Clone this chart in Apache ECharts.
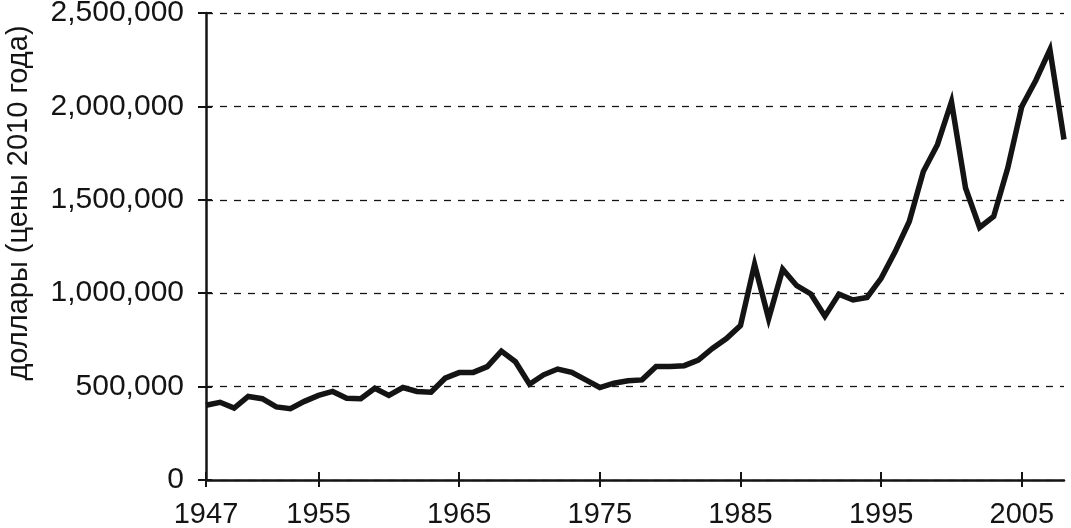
<!DOCTYPE html>
<html>
<head>
<meta charset="utf-8">
<script src="https://cdn.jsdelivr.net/npm/echarts@6/dist/echarts.min.js"></script>
<style>
html,body{margin:0;padding:0;background:#fff;}
#chart{width:1071px;height:528px;}
</style>
</head>
<body>
<div id="chart"></div>
<script>
const years = [1947,1948,1949,1950,1951,1952,1953,1954,1955,1956,1957,1958,1959,1960,1961,1962,1963,1964,1965,1966,1967,1968,1969,1970,1971,1972,1973,1974,1975,1976,1977,1978,1979,1980,1981,1982,1983,1984,1985,1986,1987,1988,1989,1990,1991,1992,1993,1994,1995,1996,1997,1998,1999,2000,2001,2002,2003,2004,2005,2006,2007,2008];
const values = [400000,416000,385000,447000,435000,391000,382000,421000,453000,474000,438000,435000,491000,453000,495000,474000,470000,545000,575000,576000,607000,690000,633000,513000,563000,594000,576000,536000,495000,518000,531000,536000,607000,607000,612000,642000,704000,757000,827000,1155000,863000,1128000,1040000,996000,877000,995000,964000,977000,1080000,1223000,1384000,1652000,1795000,2025000,1563000,1352000,1411000,1670000,2000000,2140000,2304000,1823000];
const xTickLabels = [1947,1955,1965,1975,1985,1995,2005];
const yTitle = 'доллары (цены 2010 года)';

const chart = echarts.init(document.getElementById('chart'));
const ink = '#141414';
const font = 'Liberation Sans';
chart.setOption({
  animation: false,
  grid: {left: 206, right: 7, top: 13, bottom: 48, outerBoundsMode: 'none', containLabel: false},
  graphic: [{
    type: 'text', x: 18.5, y: 203, rotation: Math.PI / 2,
    style: {text: yTitle, fill: ink, font: '29px "Liberation Sans"', align: 'center', verticalAlign: 'middle'}
  }],
  xAxis: [{
    type: 'value', min: 1947, max: 2008,
    axisLine: {lineStyle: {color: ink, width: 2.5}},
    axisTick: {customValues: xTickLabels, length: 7, lineStyle: {color: ink, width: 2}},
    axisLabel: {customValues: xTickLabels, color: ink, fontSize: 29, fontFamily: font, margin: 20, formatter: v => String(v)},
    splitLine: {show: false}
  }, {
    type: 'value', min: 1947, max: 2008, position: 'bottom',
    axisLine: {show: false},
    axisTick: {customValues: xTickLabels, inside: true, length: 8, lineStyle: {color: ink, width: 2}},
    axisLabel: {show: false},
    splitLine: {show: false}
  }],
  yAxis: [{
    type: 'value', min: 0, max: 2500000, interval: 500000,
    axisLine: {show: true, lineStyle: {color: ink, width: 2.5}},
    axisTick: {show: true, length: 8, lineStyle: {color: ink, width: 2}},
    axisLabel: {color: ink, fontSize: 30, fontFamily: font, margin: 22, formatter: v => v.toLocaleString('en-US')},
    splitLine: {show: true, lineStyle: {color: ink, width: 1.3, type: [7, 7]}}
  }, {
    type: 'value', min: 0, max: 2500000, interval: 500000, position: 'left',
    axisLine: {show: false},
    axisTick: {show: true, inside: true, length: 6, lineStyle: {color: ink, width: 2}},
    axisLabel: {show: false},
    splitLine: {show: false}
  }],
  series: [{
    type: 'line',
    data: years.map((y, i) => [y, values[i]]),
    showSymbol: false,
    lineStyle: {color: ink, width: 5.5, join: 'miter'},
    z: 5
  }]
});
</script>
</body>
</html>
